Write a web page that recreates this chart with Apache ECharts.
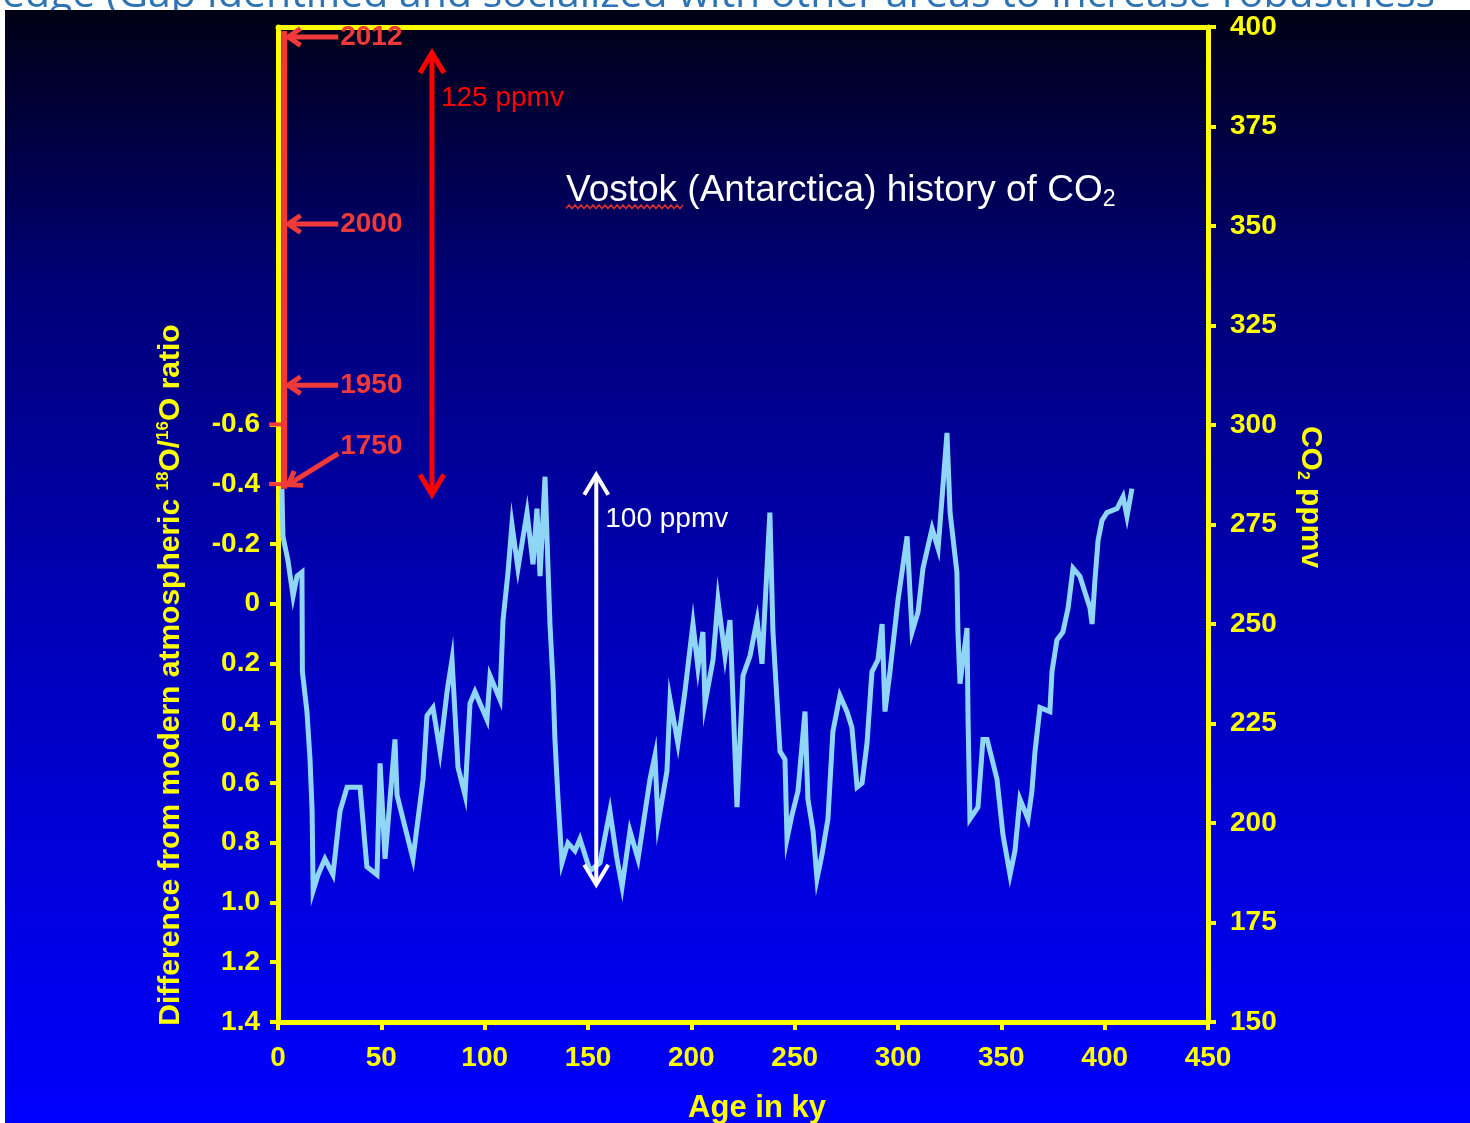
<!DOCTYPE html>
<html>
<head>
<meta charset="utf-8">
<script src="https://cdn.jsdelivr.net/npm/echarts@6/dist/echarts.min.js"></script>
<style>
  html, body { margin: 0; padding: 0; background: #ffffff; }
  #chart { width: 1470px; height: 1123px; }
</style>
</head>
<body>
<div id="chart"></div>
<script>
// Vostok CO2 record (age in ky, CO2 in ppmv)
var ages = [
  1.9, 2.4, 4.8, 7.3, 9.2, 11.6, 11.8, 14, 15.5, 16.5,
  17, 19.4, 22.7, 26.6, 30, 33.4, 39.7, 43, 47.9, 49.4,
  51.8, 56.6, 57.6, 65.3, 70.2, 72.1, 75, 78.4, 81.8, 84.2,
  87.1, 90.5, 92.9, 95.3, 101.1, 102.6, 107.4, 108.9, 111.3, 113.2,
  116.1, 120.5, 123.4, 125.3, 126.8, 129.2, 130.6, 131.6, 133.1, 134,
  135.5, 137.4, 140.3, 143.7, 146.1, 151, 155.8, 160.6, 164, 166.5,
  170.3, 174.2, 180, 182.4, 183.9, 188.2, 189.7, 193.5, 196.9, 200.8,
  203.2, 205.6, 206.6, 210.5, 212.9, 216.3, 218.7, 222.1, 225, 228.4,
  231.8, 234.2, 238, 239.5, 242.9, 245.3, 246.3, 248.7, 251.6, 255,
  256.4, 258.9, 260.8, 263.2, 266.1, 268.5, 271.9, 275.3, 277.7, 280.2,
  282.6, 285, 287.4, 290.3, 292.3, 293.7, 296.1, 300, 304.4, 306.8,
  309.7, 312.1, 316.5, 319.4, 321.8, 323.7, 325.2, 328.5, 329, 330,
  333.4, 333.9, 334.8, 338.7, 341.1, 343.1, 347.9, 350.8, 354.2, 356.6,
  359, 362.9, 364.8, 366.3, 368.7, 373.5, 374.5, 376.9, 379.8, 382.3,
  384.7, 388, 392.9, 393.9, 395.3, 396.8, 398.7, 401.1, 406, 408.9,
  410.8, 413.2
];
var co2 = [
  284, 272, 266, 257, 262, 263, 238, 228, 216, 203,
  183, 187, 191, 187, 203, 209, 209, 189, 187, 215,
  191, 221, 207, 191, 211, 227, 229, 218, 233, 241,
  214, 207, 230, 233, 226, 237, 231, 251, 263, 275,
  264, 278, 265, 279, 262, 287, 265, 250, 235, 221,
  206, 190, 195, 193, 196, 188, 190, 203, 191, 184,
  198, 191, 211, 217, 200, 213, 231, 220, 233, 250,
  239, 248, 230, 241, 256, 242, 251, 204, 237, 242,
  251, 240, 278, 248, 218, 216, 196, 202, 208, 228,
  206, 198, 186, 192, 201, 223, 232, 228, 224, 209,
  210, 220, 238, 241, 250, 228, 238, 256, 272, 248,
  253, 264, 274, 269, 285, 298, 278, 263, 248, 235,
  249, 226, 201, 204, 221, 221, 211, 197, 187, 193,
  206, 201, 208, 218, 229, 228, 238, 246, 248, 254,
  264, 262, 254, 250, 261, 271, 276, 278, 279, 282,
  277, 284
];

// modern (instrumental) rise, drawn just right of age 0
var modernAge = 3;
var modernRange = [284, 399];
var modernYears = ['2012', '2000', '1950', '1750'];
var modernYearCO2 = [397.5, 350.5, 310, 285];

// glacial-interglacial spans
var spanAges = [74.5, 154];
var spanTops = [394, 288];
var spanBottoms = [282, 184];
var spanLabels = ['125 ppmv', '100 ppmv'];

// left axis (d18O difference) ticks and the red marks on it
var d18oTicks = [-0.6, -0.4, -0.2, 0, 0.2, 0.4, 0.6, 0.8, 1.0, 1.2, 1.4];
var d18oRedMarks = [-0.6, -0.4];

var pageHeading = 'edge (Gap Identified and socialized with other areas to increase robustness';

var YELLOW = '#ffff00';
var FONT = '"Liberation Sans", Arial, sans-serif';

var axisLbl = { color: YELLOW, fontFamily: FONT, fontWeight: 'bold', fontSize: 28 };

var wave = [];
for (var i = 0; i * 3 <= 118; i++) wave.push([566 + i * 3, i % 2 ? 205 : 208.5]);

var chart = echarts.init(document.getElementById('chart'));

var option = {
  backgroundColor: 'transparent',
  animation: false,
  title: {
    text: '{a|Vostok (Antarctica) history of CO}{s|2}',
    left: 566,
    top: 170,
    padding: 0,
    textStyle: {
      fontWeight: 'normal',
      rich: {
        a: { color: '#ffffff', fontSize: 37, fontWeight: 'normal', fontFamily: FONT, lineHeight: 41 },
        s: { color: '#ffffff', fontSize: 23, fontWeight: 'normal', fontFamily: FONT, lineHeight: 23, verticalAlign: 'bottom' }
      }
    }
  },
  graphic: [
    {
      type: 'text', x: 2, y: -5, z: -30, silent: true,
      style: { text: pageHeading, fill: '#2e74b5', font: '41px "Open Sans", sans-serif', verticalAlign: 'middle' }
    },
    {
      type: 'rect', x: 5, y: 10, z: -20, silent: true,
      shape: { width: 1465, height: 1113 },
      style: {
        fill: new echarts.graphic.LinearGradient(0, 0, 0, 1, [
          { offset: 0, color: '#000014' },
          { offset: 0.25, color: '#000078' },
          { offset: 0.55, color: '#0000b8' },
          { offset: 1, color: '#0000ff' }
        ])
      }
    },
    {
      type: 'polyline', z: 10, silent: true,
      shape: { points: wave },
      style: { stroke: '#d83030', lineWidth: 1.5, fill: null }
    }
  ],
  grid: {
    left: 278, right: 262, top: 27, bottom: 101,
    containLabel: false, outerBoundsMode: 'none'
  },
  xAxis: [
    {
      type: 'value', min: 0, max: 450, interval: 50,
      name: 'Age in ky', nameLocation: 'middle', nameGap: 71, nameMoveOverlap: false,
      nameTextStyle: { color: YELLOW, fontFamily: FONT, fontWeight: 'bold', fontSize: 31, padding: [0, 0, 0, 28] },
      axisLine: { onZero: false, lineStyle: { color: YELLOW, width: 5 } },
      axisTick: { length: 8, lineStyle: { color: YELLOW, width: 4 } },
      axisLabel: Object.assign({ margin: 22, showMinLabel: true, showMaxLabel: true }, axisLbl),
      splitLine: { show: false }
    },
    {
      type: 'value', position: 'top', min: 0, max: 450,
      axisLine: { onZero: false, lineStyle: { color: YELLOW, width: 5 } },
      axisTick: { show: false }, axisLabel: { show: false }, splitLine: { show: false }
    }
  ],
  yAxis: [
    {
      type: 'value', position: 'right', min: 150, max: 400, interval: 25,
      name: '{t|CO}{sub|2}{t| ppmv}', nameLocation: 'middle', nameRotate: -90, nameGap: 86, nameMoveOverlap: false,
      nameTextStyle: {
        padding: [0, 55, 0, 0],
        rich: {
          t: { color: YELLOW, fontFamily: FONT, fontWeight: 'bold', fontSize: 30, lineHeight: 32 },
          sub: { color: YELLOW, fontFamily: FONT, fontWeight: 'bold', fontSize: 16, lineHeight: 16, verticalAlign: 'bottom' }
        }
      },
      axisLine: { show: true, onZero: false, lineStyle: { color: YELLOW, width: 5 } },
      axisTick: { show: true, length: 8, lineStyle: { color: YELLOW, width: 4 } },
      axisLabel: Object.assign({ margin: 22, showMinLabel: true, showMaxLabel: true }, axisLbl),
      splitLine: { show: false }
    },
    {
      type: 'value', position: 'left', inverse: true, min: -1.93, max: 1.4,
      name: '{t|Difference from modern atmospheric }{sup|18}{t|O/}{sup|16}{t|O ratio}',
      nameLocation: 'middle', nameRotate: 90, nameGap: 91, nameMoveOverlap: false,
      nameTextStyle: {
        padding: [0, 301, 0, 0],
        rich: {
          t: { color: YELLOW, fontFamily: FONT, fontWeight: 'bold', fontSize: 30, lineHeight: 32 },
          sup: { color: YELLOW, fontFamily: FONT, fontWeight: 'bold', fontSize: 17, lineHeight: 17, verticalAlign: 'top' }
        }
      },
      axisLine: { show: true, onZero: false, lineStyle: { color: YELLOW, width: 5 } },
      axisTick: { show: true, length: 8, customValues: d18oTicks, lineStyle: { color: YELLOW, width: 4 } },
      axisLabel: Object.assign({
        margin: 18, customValues: d18oTicks,
        formatter: function (v) { return Math.abs(v) < 1e-9 ? '0' : (+v).toFixed(1); }
      }, axisLbl),
      splitLine: { show: false }
    }
  ],
  series: [
    {
      name: 'CO2', type: 'line', yAxisIndex: 0, z: 3,
      symbol: 'none', silent: true,
      lineStyle: { color: '#8fd6f6', width: 5, join: 'miter' },
      data: ages.map(function (a, i) { return [a, co2[i]]; })
    },
    {
      name: 'modern', type: 'line', yAxisIndex: 0, z: 4,
      symbol: 'none', silent: true,
      lineStyle: { color: '#f03a3a', width: 6 },
      data: modernRange.map(function (v) { return [modernAge, v]; })
    },
    {
      name: 'years', type: 'custom', yAxisIndex: 0, z: 5, silent: true, clip: false,
      data: modernYears.map(function (y, i) { return [modernAge, modernYearCO2[i]]; }),
      renderItem: function (params, api) {
        var p = api.coord([api.value(0), api.value(1)]);
        var red = '#f03a3a';
        var diag = params.dataIndex === modernYears.length - 1;
        var tip = [p[0] + 4, p[1]];
        var tail = diag ? [p[0] + 54, p[1] - 31] : [p[0] + 54, p[1]];
        var ang = Math.atan2(tail[1] - tip[1], tail[0] - tip[0]);
        var h1 = [tip[0] + 15 * Math.cos(ang + 0.6), tip[1] + 15 * Math.sin(ang + 0.6)];
        var h2 = [tip[0] + 15 * Math.cos(ang - 0.6), tip[1] + 15 * Math.sin(ang - 0.6)];
        return {
          type: 'group',
          children: [
            { type: 'line', shape: { x1: tip[0], y1: tip[1], x2: tail[0], y2: tail[1] }, style: { stroke: red, lineWidth: 5 } },
            { type: 'polyline', shape: { points: [h1, tip, h2] }, style: { stroke: red, lineWidth: 5, fill: null } },
            {
              type: 'text', x: tail[0] + 2, y: diag ? tail[1] - 7 : tail[1],
              style: { text: modernYears[params.dataIndex], fill: red, font: 'bold 28px ' + FONT, align: 'left', verticalAlign: 'middle' }
            }
          ]
        };
      }
    },
    {
      name: 'redMarks', type: 'custom', yAxisIndex: 1, z: 5, silent: true, clip: false,
      data: d18oRedMarks.map(function (v) { return [0, v]; }),
      renderItem: function (params, api) {
        var p = api.coord([api.value(0), api.value(1)]);
        return { type: 'line', shape: { x1: p[0] - 9, y1: p[1], x2: p[0] + 9, y2: p[1] }, style: { stroke: '#f03a3a', lineWidth: 4 } };
      }
    },
    {
      name: 'spans', type: 'custom', yAxisIndex: 0, z: 6, silent: true,
      data: spanAges.map(function (a, i) { return [a, spanTops[i], spanBottoms[i]]; }),
      renderItem: function (params, api) {
        var i = params.dataIndex;
        var top = api.coord([api.value(0), api.value(1)]);
        var bot = api.coord([api.value(0), api.value(2)]);
        var x = top[0];
        var col = i === 0 ? '#ff0000' : '#ffffff';
        var w = i === 0 ? 5 : 4;
        return {
          type: 'group',
          children: [
            { type: 'line', shape: { x1: x, y1: top[1] + 2, x2: x, y2: bot[1] - 2 }, style: { stroke: col, lineWidth: w } },
            { type: 'polyline', shape: { points: [[x - 12, top[1] + 22], [x, top[1] + 2], [x + 12, top[1] + 22]] }, style: { stroke: col, lineWidth: w, fill: null } },
            { type: 'polyline', shape: { points: [[x - 12, bot[1] - 22], [x, bot[1] - 2], [x + 12, bot[1] - 22]] }, style: { stroke: col, lineWidth: w, fill: null } },
            {
              type: 'text', x: x + 9, y: top[1] + 47,
              style: { text: spanLabels[i], fill: col, font: '28px ' + FONT, align: 'left', verticalAlign: 'middle' }
            }
          ]
        };
      }
    }
  ]
};

chart.setOption(option);
</script>
</body>
</html>
